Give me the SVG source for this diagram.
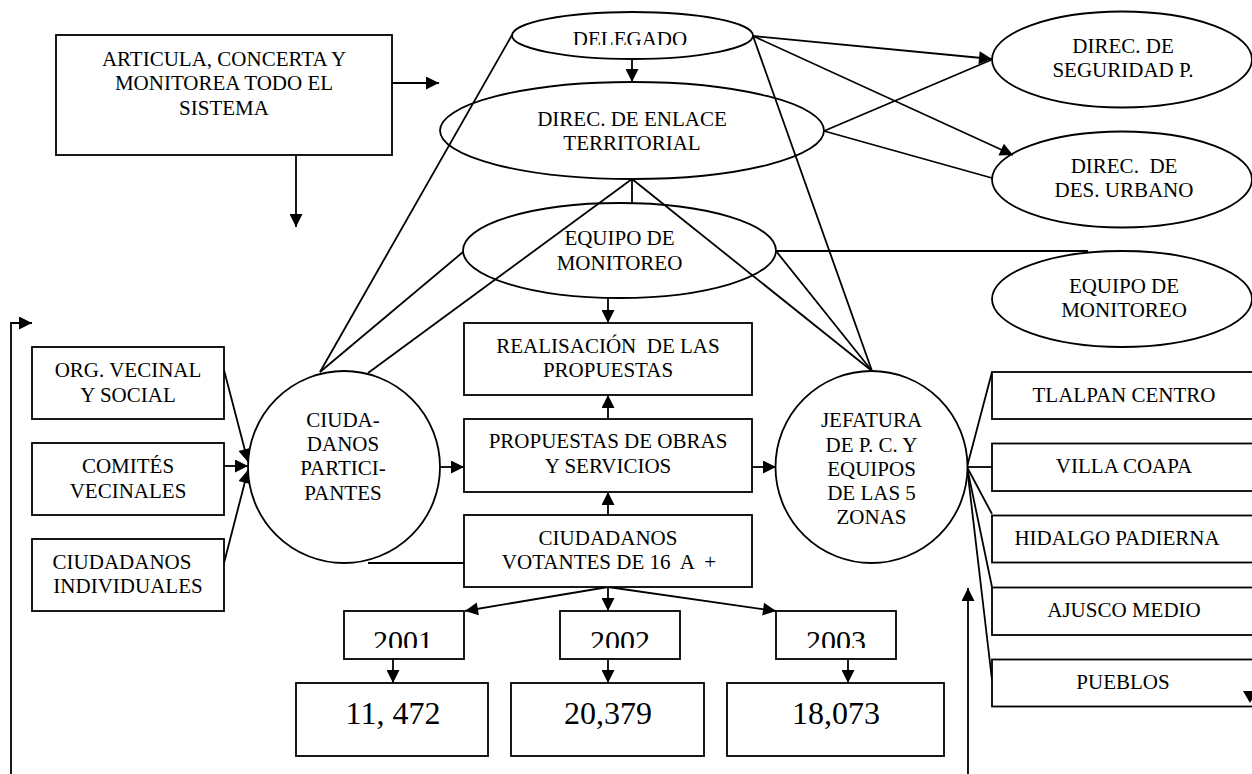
<svg xmlns="http://www.w3.org/2000/svg" width="1252" height="774" viewBox="0 0 1252 774">
<style>
  .s{fill:#fff;stroke:#000;stroke-width:1.8}
  .c{fill:none;stroke:#000;stroke-width:1.8}
  .a{marker-end:url(#ah)}
  text{font-family:"Liberation Serif","Times New Roman",serif;font-size:21px;fill:#000;text-anchor:middle;white-space:pre}
  .y{font-size:30px}
  .n{font-size:32px}
</style>
<defs>
  <marker id="ah" viewBox="0 0 10 10" refX="10" refY="5" markerUnits="userSpaceOnUse" markerWidth="15" markerHeight="13" orient="auto">
    <path d="M0,0 L10,5 L0,10 z" fill="#000"/>
  </marker>
  <clipPath id="clipDel"><rect x="500" y="0" width="270" height="45"/></clipPath>
  <clipPath id="clipYear"><rect x="300" y="600" width="640" height="48"/></clipPath>
</defs>

<g id="n_articula">
  <rect class="s" x="56" y="35" width="336" height="120"/>
  <text x="224" y="66">ARTICULA, CONCERTA Y</text>
  <text x="224" y="90">MONITOREA TODO EL</text>
  <text x="224" y="115">SISTEMA</text>
</g>
<g id="n_delegado">
  <ellipse class="s" cx="632.5" cy="35.5" rx="120.5" ry="23.5"/>
  <text x="630" y="46" clip-path="url(#clipDel)">DELEGADO</text>
</g>
<g id="n_enlace">
  <ellipse class="s" cx="632" cy="130.5" rx="192" ry="48.5"/>
  <text x="632" y="126">DIREC. DE ENLACE</text>
  <text x="632" y="150">TERRITORIAL</text>
</g>
<g id="n_equipo">
  <ellipse class="s" cx="619.5" cy="250.5" rx="156.5" ry="47.5"/>
  <text x="619.5" y="245">EQUIPO DE</text>
  <text x="619.5" y="270">MONITOREO</text>
</g>
<g id="n_seguridad">
  <ellipse class="s" cx="1122" cy="59.5" rx="130" ry="48"/>
  <text x="1123" y="53">DIREC. DE</text>
  <text x="1123" y="77">SEGURIDAD P.</text>
</g>
<g id="n_urbano">
  <ellipse class="s" cx="1122" cy="179.5" rx="130" ry="48"/>
  <text x="1124" y="173">DIREC.  DE</text>
  <text x="1124" y="197">DES. URBANO</text>
</g>
<g id="n_equipo2">
  <ellipse class="s" cx="1122" cy="299" rx="130" ry="48"/>
  <text x="1124" y="293">EQUIPO DE</text>
  <text x="1124" y="317">MONITOREO</text>
</g>

<g id="connectors">
  <line class="c a" x1="392" y1="83" x2="439" y2="83"/>
  <line class="c a" x1="296" y1="155" x2="296" y2="227"/>
  <line class="c a" x1="632" y1="59" x2="632" y2="82"/>
  <line class="c" x1="512" y1="35" x2="320" y2="372"/>
  <line class="c" x1="753" y1="36" x2="872" y2="371"/>
  <line class="c a" x1="753" y1="36" x2="992" y2="59"/>
  <line class="c a" x1="753" y1="36" x2="1013" y2="155"/>
  <line class="c" x1="824" y1="131" x2="991" y2="60"/>
  <line class="c" x1="824" y1="131" x2="992" y2="178"/>
  <line class="c" x1="632" y1="179" x2="632" y2="203"/>
  <line class="c" x1="632" y1="179" x2="368" y2="373"/>
  <line class="c" x1="632" y1="179" x2="872" y2="371"/>
  <line class="c" x1="463" y1="252" x2="320" y2="372"/>
  <line class="c" x1="776" y1="251" x2="872" y2="371"/>
  <line class="c" x1="776" y1="251" x2="1088" y2="251"/>
  <line class="c a" x1="608" y1="298" x2="608" y2="323"/>
  <line class="c a" x1="608" y1="419" x2="608" y2="395"/>
  <line class="c a" x1="608" y1="515" x2="608" y2="492"/>
  <line class="c a" x1="440" y1="467" x2="464" y2="467"/>
  <line class="c a" x1="752" y1="467" x2="776" y2="467"/>
  <line class="c" x1="368" y1="563" x2="464" y2="563"/>
  <line class="c a" x1="224" y1="370" x2="248" y2="462"/>
  <line class="c a" x1="224" y1="466" x2="248" y2="466"/>
  <line class="c a" x1="224" y1="563" x2="248" y2="470"/>
  <line class="c a" x1="608" y1="587" x2="465" y2="611"/>
  <line class="c a" x1="608" y1="587" x2="608" y2="611"/>
  <line class="c a" x1="608" y1="587" x2="776" y2="611"/>
  <line class="c a" x1="393" y1="659" x2="393" y2="683"/>
  <line class="c a" x1="608" y1="659" x2="608" y2="683"/>
  <line class="c a" x1="848" y1="659" x2="848" y2="683"/>
  <line class="c" x1="967" y1="467" x2="992" y2="372"/>
  <line class="c" x1="967" y1="467" x2="992" y2="467"/>
  <line class="c" x1="967" y1="467" x2="992" y2="514"/>
  <line class="c" x1="967" y1="467" x2="992" y2="587"/>
  <line class="c" x1="967" y1="467" x2="992" y2="680"/>
  <polyline class="c a" points="11,774 11,323 32,323"/>
  <line class="c a" x1="968" y1="774" x2="968" y2="588"/>
</g>

<g id="n_realisacion">
  <rect class="s" x="464" y="323" width="288" height="72"/>
  <text x="608" y="353">REALISACIÓN  DE LAS</text>
  <text x="608" y="377">PROPUESTAS</text>
</g>
<g id="n_propuestas">
  <rect class="s" x="464" y="419" width="288" height="73"/>
  <text x="608" y="448">PROPUESTAS DE OBRAS</text>
  <text x="608" y="473">Y SERVICIOS</text>
</g>
<g id="n_votantes">
  <rect class="s" x="464" y="515" width="288" height="72"/>
  <text x="608" y="545">CIUDADANOS</text>
  <text x="609" y="569">VOTANTES DE 16  A  +</text>
</g>
<g id="n_ciuda">
  <circle class="s" cx="344" cy="467" r="96"/>
  <text x="343" y="427">CIUDA-</text>
  <text x="343" y="451">DANOS</text>
  <text x="343" y="475">PARTICI-</text>
  <text x="343" y="500">PANTES</text>
</g>
<g id="n_jefatura">
  <circle class="s" cx="871.5" cy="467" r="96"/>
  <text x="871.5" y="427">JEFATURA</text>
  <text x="871.5" y="452">DE P. C. Y</text>
  <text x="871.5" y="476">EQUIPOS</text>
  <text x="871.5" y="500">DE LAS 5</text>
  <text x="871.5" y="524">ZONAS</text>
</g>
<g id="n_org">
  <rect class="s" x="32" y="347" width="192" height="72"/>
  <text x="128" y="377">ORG. VECINAL</text>
  <text x="128" y="402">Y SOCIAL</text>
</g>
<g id="n_comites">
  <rect class="s" x="32" y="443" width="192" height="72"/>
  <text x="128" y="473">COMITÉS</text>
  <text x="128" y="498">VECINALES</text>
</g>
<g id="n_individuales">
  <rect class="s" x="32" y="539" width="192" height="72"/>
  <text x="122" y="569">CIUDADANOS</text>
  <text x="128" y="593">INDIVIDUALES</text>
</g>
<g id="n_tlalpan">
  <rect class="s" x="992" y="372" width="270" height="47"/>
  <text x="1124" y="402">TLALPAN CENTRO</text>
</g>
<g id="n_villa">
  <rect class="s" x="992" y="443.5" width="270" height="47.5"/>
  <text x="1124" y="473">VILLA COAPA</text>
</g>
<g id="n_hidalgo">
  <rect class="s" x="992" y="515.5" width="270" height="47"/>
  <text x="1117" y="545">HIDALGO PADIERNA</text>
</g>
<g id="n_ajusco">
  <rect class="s" x="992" y="587.5" width="270" height="47.5"/>
  <text x="1124" y="617">AJUSCO MEDIO</text>
</g>
<g id="n_pueblos">
  <rect class="s" x="992" y="659.5" width="270" height="47"/>
  <text x="1123" y="689">PUEBLOS</text>
</g>
<g id="n_2001">
  <rect class="s" x="344" y="611" width="120" height="48"/>
  <text class="y" x="403" y="651" clip-path="url(#clipYear)">2001</text>
</g>
<g id="n_2002">
  <rect class="s" x="560" y="611" width="120" height="48"/>
  <text class="y" x="620" y="651" clip-path="url(#clipYear)">2002</text>
</g>
<g id="n_2003">
  <rect class="s" x="776" y="611" width="120" height="48"/>
  <text class="y" x="836" y="651" clip-path="url(#clipYear)">2003</text>
</g>
<g id="n_v2001">
  <rect class="s" x="296" y="683" width="192" height="73"/>
  <text class="n" x="393" y="724">11, 472</text>
</g>
<g id="n_v2002">
  <rect class="s" x="511" y="683" width="193" height="73"/>
  <text class="n" x="608" y="724">20,379</text>
</g>
<g id="n_v2003">
  <rect class="s" x="727" y="683" width="217" height="73"/>
  <text class="n" x="836" y="724">18,073</text>
</g>
<g id="edge_arrow">
  <polygon points="1243,691 1257,691 1250,703" fill="#000"/>
</g>
</svg>
